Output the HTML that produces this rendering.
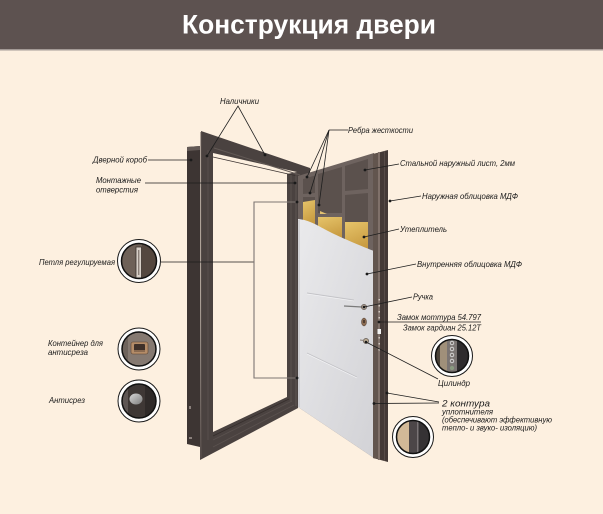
<!DOCTYPE html>
<html>
<head>
<meta charset="utf-8">
<style>
html,body{margin:0;padding:0;background:#fdf0e0;}
svg{display:block;}
</style>
</head>
<body>
<svg width="603" height="514" viewBox="0 0 603 514" xmlns="http://www.w3.org/2000/svg">
<defs>
  <linearGradient id="wp" x1="0" y1="0" x2="1" y2="1">
    <stop offset="0" stop-color="#eaeaec"/>
    <stop offset="1" stop-color="#d2d2d6"/>
  </linearGradient>
  <linearGradient id="yl" x1="0" y1="0" x2="0.3" y2="1">
    <stop offset="0" stop-color="#e6c46a"/>
    <stop offset="1" stop-color="#c6983e"/>
  </linearGradient>
  <linearGradient id="knob" x1="0" y1="0" x2="1" y2="1">
    <stop offset="0" stop-color="#d8d8d8"/>
    <stop offset="1" stop-color="#7c7c7c"/>
  </linearGradient>
  <clipPath id="c1"><circle cx="139" cy="261" r="17.5"/></clipPath>
  <clipPath id="c2"><circle cx="139" cy="349" r="17"/></clipPath>
  <clipPath id="c3"><circle cx="139" cy="401" r="17"/></clipPath>
  <clipPath id="c4"><circle cx="452" cy="356" r="16.5"/></clipPath>
  <clipPath id="c5"><circle cx="413" cy="437" r="16.5"/></clipPath>
</defs>

<!-- background -->
<rect x="0" y="0" width="603" height="514" fill="#fdf0e0"/>
<!-- header -->
<rect x="0" y="0" width="603" height="49" fill="#5d5250"/>
<rect x="0" y="49" width="603" height="1.5" fill="#a39a96"/>
<text x="182" y="33.5" font-family="'Liberation Sans', sans-serif" font-weight="bold" font-size="27" fill="#ffffff" textLength="254" lengthAdjust="spacingAndGlyphs">Конструкция двери</text>

<!-- ===== DOOR FRAME ===== -->
<!-- side piece -->
<polygon points="187,147 200,146 200,447 187,444" fill="#3d3533"/>
<polygon points="187,147 200,146 200,150 187,151" fill="#645a56"/>
<!-- frame face -->
<path d="M201,131 L310,168 L310,178 L298,180 L298,408 L200,460 Z M213,153 L213,432 L287,397 L287,174 L297,172 Z" fill="#4a4240" fill-rule="evenodd"/>
<!-- profile lines -->
<line x1="208" y1="150" x2="208" y2="440" stroke="#5a514e" stroke-width="0.9"/>
<line x1="201" y1="132" x2="201" y2="458" stroke="#5e5451" stroke-width="1"/>
<line x1="214" y1="148" x2="300" y2="175" stroke="#625955" stroke-width="1"/>
<line x1="213" y1="157" x2="297" y2="176" stroke="#3a3230" stroke-width="0.8"/>
<line x1="291" y1="175" x2="291" y2="402" stroke="#5a514e" stroke-width="1"/>
<line x1="296" y1="172" x2="296" y2="406" stroke="#655b57" stroke-width="0.8"/>
<line x1="213" y1="440" x2="292" y2="401" stroke="#5a514e" stroke-width="0.9"/>
<line x1="213" y1="447" x2="294" y2="405" stroke="#5a514e" stroke-width="0.9"/>
<line x1="213" y1="436" x2="289" y2="399" stroke="#362e2c" stroke-width="0.8"/>
<!-- small marks on side piece -->
<rect x="189" y="406" width="2" height="3" fill="#8a807c"/>
<rect x="189" y="437" width="3" height="2" fill="#8a807c"/>

<!-- ===== DOOR LEAF ===== -->
<polygon points="298,176 374,153 374,458 298,407" fill="#6e635f"/>
<!-- cells -->
<polygon points="303,179 315,175.5 315,193 303,194" fill="#5b514d"/>
<polygon points="303,197 315,197 315,226 303,224" fill="#5b514d"/>
<polygon points="318,174 342,167 342,213 318,213" fill="#5b514d"/>
<polygon points="345,166 368,159 368,189 345,191" fill="#5b514d"/>
<polygon points="345,195 368,193 368,226 345,226" fill="#5b514d"/>
<!-- insulation -->
<polygon points="303,202 315,200 315,228 303,224" fill="url(#yl)"/>
<polygon points="320,211 327,214 320,214" fill="#e2c070"/>
<polygon points="318,217 342,217 342,242 318,232" fill="url(#yl)"/>
<polygon points="345,222 368,222 368,254 345,246" fill="url(#yl)"/>
<!-- white MDF panel -->
<path d="M298,219 C310,220 318,226 330,232 C340,237 356,244 374,251 L374,458 L298,407 Z" fill="url(#wp)"/>
<line x1="299" y1="220" x2="299" y2="407" stroke="#bcbcc0" stroke-width="1"/>
<!-- moldings -->
<line x1="307" y1="293" x2="354" y2="300" stroke="#c4c4c8" stroke-width="0.9"/>
<line x1="307" y1="294" x2="354" y2="301" stroke="#f6f6f8" stroke-width="0.6"/>
<line x1="307" y1="353" x2="357" y2="377" stroke="#c4c4c8" stroke-width="0.9"/>
<line x1="307" y1="354" x2="357" y2="378" stroke="#f6f6f8" stroke-width="0.6"/>
<!-- door edge strip -->
<polygon points="373,154 388,150 388,462 373,458" fill="#443936"/>
<polygon points="373,154 378,153 378,459 373,458" fill="#62554e"/>
<rect x="378" y="152" width="2" height="308" fill="#80716a"/>
<rect x="384" y="151" width="1" height="310" fill="#574b47"/>
<!-- lock faceplate -->
<g fill="#cfc8c0">
  <rect x="378.5" y="299" width="1.5" height="1.5"/>
  <rect x="378.5" y="305" width="1.5" height="1.5"/>
  <rect x="378.5" y="311" width="1.5" height="1.5"/>
  <rect x="378.5" y="317" width="1.5" height="1.5"/>
  <rect x="378.5" y="337" width="1.5" height="1.5"/>
  <rect x="378.5" y="343" width="1.5" height="1.5"/>
  <rect x="378.5" y="349" width="1.5" height="1.5"/>
</g>
<rect x="377.5" y="329" width="3.5" height="5" fill="#f2f2f2"/>
<!-- handle -->
<line x1="344" y1="306" x2="362" y2="307" stroke="#7a7a7a" stroke-width="1.3"/>
<circle cx="364" cy="307" r="2.6" fill="#b0a294" stroke="#4a403c" stroke-width="0.6"/>
<ellipse cx="364" cy="322" rx="2.5" ry="4" fill="#8c6c52" stroke="#4a3a30" stroke-width="0.5"/>
<rect x="363.4" y="320" width="1.2" height="3" fill="#2a201c"/>
<circle cx="366" cy="341" r="2.6" fill="#b8a890" stroke="#4a403c" stroke-width="0.6"/>
<line x1="360" y1="340" x2="364" y2="340.5" stroke="#8a7f78" stroke-width="1"/>

<!-- ===== CONNECTORS ===== -->
<g stroke="#1e1e1e" stroke-width="0.8" fill="none">
  <polyline points="207,156 238,106 265,155"/>
  <line x1="148" y1="160" x2="191" y2="160"/>
  <line x1="145" y1="183" x2="295" y2="183"/>
  <line x1="161" y1="262" x2="254" y2="262"/>
  <line x1="348" y1="130" x2="329" y2="130"/>
  <line x1="329" y1="130" x2="307" y2="177"/>
  <line x1="329" y1="130" x2="310" y2="193"/>
  <line x1="329" y1="130" x2="319" y2="205"/>
  <line x1="399" y1="164" x2="365" y2="170"/>
  <line x1="421" y1="196" x2="390" y2="201"/>
  <line x1="399" y1="229" x2="364" y2="237"/>
  <line x1="416" y1="264" x2="367" y2="274"/>
  <line x1="412" y1="297" x2="364" y2="307"/>
  <line x1="379" y1="322" x2="481" y2="322"/>
  <line x1="438" y1="379" x2="366" y2="342"/>
  <line x1="439" y1="402" x2="387" y2="393"/>
  <line x1="439" y1="403" x2="374" y2="403.5"/>
</g>
<polyline points="297,202 254,202 254,378 297,378" fill="none" stroke="#7d7672" stroke-width="1.1"/>
<g fill="#1a1a1a">
  <circle cx="207" cy="156" r="1.4"/>
  <circle cx="265" cy="155" r="1.4"/>
  <circle cx="191" cy="160" r="1.4"/>
  <circle cx="295" cy="183" r="1.4"/>
  <circle cx="297" cy="202" r="1.4"/>
  <circle cx="297" cy="378" r="1.4"/>
  <circle cx="307" cy="177" r="1.4"/>
  <circle cx="310" cy="193" r="1.4"/>
  <circle cx="319" cy="205" r="1.4"/>
  <circle cx="365" cy="170" r="1.4"/>
  <circle cx="390" cy="201" r="1.4"/>
  <circle cx="364" cy="237" r="1.4"/>
  <circle cx="367" cy="274" r="1.4"/>
  <circle cx="364" cy="307" r="1.3"/>
  <circle cx="379" cy="322" r="1.4"/>
  <circle cx="366" cy="342" r="1.3"/>
  <circle cx="387" cy="393" r="1.4"/>
  <circle cx="374" cy="403.5" r="1.4"/>
</g>

<!-- ===== MEDALLIONS ===== -->
<!-- Petlya -->
<circle cx="139" cy="261" r="21.5" fill="#ffffff" stroke="#1a1a1a" stroke-width="1"/>
<g clip-path="url(#c1)">
  <rect x="118" y="240" width="42" height="42" fill="#6e6158"/>
  <rect x="142" y="240" width="20" height="42" fill="#54473f"/>
  <rect x="136" y="247" width="5.5" height="31" fill="#d8d0c8" stroke="#3a302b" stroke-width="0.8"/>
  <rect x="138" y="250" width="1.4" height="25" fill="#8a7f78"/>
</g>
<circle cx="139" cy="261" r="17.5" fill="none" stroke="#111" stroke-width="1.5"/>

<!-- Container -->
<circle cx="139" cy="349" r="21" fill="#ffffff" stroke="#1a1a1a" stroke-width="1"/>
<g clip-path="url(#c2)">
  <rect x="118" y="328" width="42" height="42" fill="#857971"/>
  <rect x="118" y="328" width="10" height="42" fill="#6e635c"/>
  <rect x="131" y="342" width="17" height="12" rx="2" fill="#b48c68" stroke="#5a4332" stroke-width="0.6"/>
  <rect x="134" y="344" width="11" height="7" rx="1" fill="#3e3029"/>
  <rect x="134" y="350" width="11" height="2" fill="#8a6a50"/>
</g>
<circle cx="139" cy="349" r="17" fill="none" stroke="#111" stroke-width="1.5"/>

<!-- Antisrez -->
<circle cx="139" cy="401" r="21" fill="#ffffff" stroke="#1a1a1a" stroke-width="1"/>
<g clip-path="url(#c3)">
  <rect x="118" y="380" width="42" height="42" fill="#3e3735"/>
  <rect x="118" y="380" width="10" height="42" fill="#5e5654"/>
  <rect x="145" y="380" width="15" height="42" fill="#2f2a29"/>
  <ellipse cx="136" cy="399" rx="6.5" ry="5.5" fill="url(#knob)"/>
</g>
<circle cx="139" cy="401" r="17" fill="none" stroke="#111" stroke-width="1.5"/>

<!-- Lock -->
<circle cx="452" cy="356" r="20.5" fill="#ffffff" stroke="#1a1a1a" stroke-width="1"/>
<g clip-path="url(#c4)">
  <rect x="432" y="336" width="42" height="42" fill="#4a4238"/>
  <rect x="440" y="336" width="7" height="42" fill="#a0907a"/>
  <rect x="447" y="336" width="10" height="42" fill="#7b7573"/>
  <rect x="457" y="336" width="17" height="42" fill="#2e2b2d"/>
  <g fill="none" stroke="#e6e6e6" stroke-width="0.8">
    <circle cx="452" cy="343" r="1.8"/>
    <circle cx="452" cy="349" r="1.8"/>
    <circle cx="452" cy="355" r="1.8"/>
    <circle cx="452" cy="361" r="1.8"/>
  </g>
  <circle cx="452" cy="368" r="2.2" fill="#8a9a80"/>
</g>
<circle cx="452" cy="356" r="16.5" fill="none" stroke="#111" stroke-width="1.5"/>

<!-- Seal -->
<circle cx="413" cy="437" r="20.5" fill="#ffffff" stroke="#1a1a1a" stroke-width="1"/>
<g clip-path="url(#c5)">
  <rect x="392" y="417" width="42" height="42" fill="#353234"/>
  <rect x="392" y="417" width="17" height="42" fill="#d2b998"/>
  <rect x="409" y="417" width="8" height="42" fill="#4c4648"/>
  <rect x="417" y="417" width="1.5" height="42" fill="#7a7476"/>
</g>
<circle cx="413" cy="437" r="16.5" fill="none" stroke="#111" stroke-width="1.5"/>

<!-- ===== LABELS ===== -->
<g font-family="'Liberation Sans', sans-serif" font-style="italic" font-size="8.5" fill="#1a1a1a">
  <text x="220" y="104" textLength="39" lengthAdjust="spacingAndGlyphs">Наличники</text>
  <text x="93" y="162.5" textLength="54" lengthAdjust="spacingAndGlyphs">Дверной короб</text>
  <text x="96" y="183" textLength="45" lengthAdjust="spacingAndGlyphs">Монтажные</text>
  <text x="96" y="192.5" textLength="42" lengthAdjust="spacingAndGlyphs">отверстия</text>
  <text x="39" y="265" textLength="76" lengthAdjust="spacingAndGlyphs">Петля регулируемая</text>
  <text x="48" y="346" textLength="55" lengthAdjust="spacingAndGlyphs">Контейнер для</text>
  <text x="48" y="355" textLength="40" lengthAdjust="spacingAndGlyphs">антисреза</text>
  <text x="49" y="403" textLength="36" lengthAdjust="spacingAndGlyphs">Антисрез</text>
  <text x="348" y="133" textLength="65" lengthAdjust="spacingAndGlyphs">Ребра жесткости</text>
  <text x="400" y="166" textLength="115" lengthAdjust="spacingAndGlyphs">Стальной наружный лист, 2мм</text>
  <text x="422" y="199" textLength="96" lengthAdjust="spacingAndGlyphs">Наружная облицовка МДФ</text>
  <text x="400" y="232" textLength="47" lengthAdjust="spacingAndGlyphs">Утеплитель</text>
  <text x="417" y="267" textLength="105" lengthAdjust="spacingAndGlyphs">Внутренняя облицовка МДФ</text>
  <text x="413" y="299.5" textLength="20" lengthAdjust="spacingAndGlyphs">Ручка</text>
  <text x="397" y="320" textLength="84" lengthAdjust="spacingAndGlyphs">Замок моттура 54.797</text>
  <text x="403" y="330.5" textLength="78" lengthAdjust="spacingAndGlyphs">Замок гардиан 25.12Т</text>
  <text x="438" y="386" textLength="32" lengthAdjust="spacingAndGlyphs">Цилиндр</text>
  <text x="442" y="406.5" font-size="9" textLength="48" lengthAdjust="spacingAndGlyphs">2 контура</text>
  <text x="442" y="414.5" textLength="51" lengthAdjust="spacingAndGlyphs">уплотнителя</text>
  <text x="442" y="422.5" textLength="110" lengthAdjust="spacingAndGlyphs">(обеспечивают эффективную</text>
  <text x="442" y="430.5" textLength="95" lengthAdjust="spacingAndGlyphs">тепло- и звуко- изоляцию)</text>
</g>
</svg>
</body>
</html>
